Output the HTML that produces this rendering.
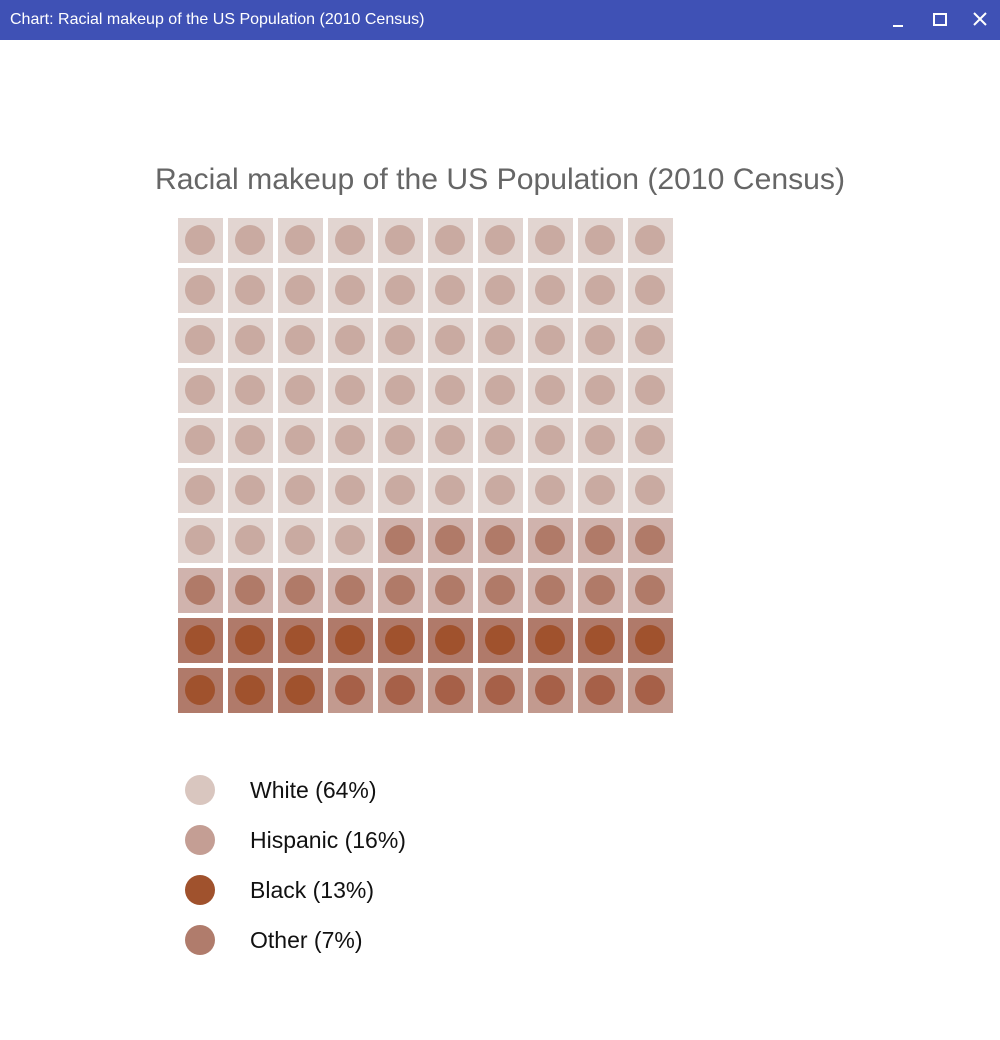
<!DOCTYPE html>
<html><head><meta charset="utf-8"><style>
body{margin:0;width:1000px;height:1040px;background:#fff;font-family:"Liberation Sans",sans-serif;overflow:hidden}
#bar{height:40px;background:#3f51b5;color:#fff;font-size:16px;line-height:40px;padding-left:10px;position:relative}
</style></head><body>
<div id="bar">Chart: Racial makeup of the US Population (2010 Census)
<svg style="position:absolute;right:0;top:0" width="120" height="40">
<line x1="13" y1="26" x2="23" y2="26" stroke="#fff" stroke-width="2"/>
<rect x="54" y="14" width="12" height="11" fill="none" stroke="#fff" stroke-width="2"/>
<path d="M94 13L106 25M106 13L94 25" stroke="#fff" stroke-width="2"/>
</svg></div>
<svg id="c" width="1000" height="1000" style="position:absolute;top:40px;left:0">
<text x="500" y="149" text-anchor="middle" font-size="30" textLength="690" lengthAdjust="spacingAndGlyphs" fill="#666">Racial makeup of the US Population (2010 Census)</text>
</svg>
<script>
const categories=["White","Hispanic","Black","Other"];
const values=[64,16,13,7];
const sq=["#e2d5d1","#d0b3ad","#b07a6a","#c29a8f"];
const ci=["#c9aaa1","#b07a68","#a0522d","#a66048"];
const leg=["#d9c6bf","#c49e94","#a0522d","#b07c6c"];
const ns="http://www.w3.org/2000/svg",svg=document.getElementById('c');
function mk(t,a){const e=document.createElementNS(ns,t);for(const k in a)e.setAttribute(k,a[k]);svg.appendChild(e);return e;}
let idx=0;
values.forEach((v,c)=>{for(let i=0;i<v;i++,idx++){const r=Math.floor(idx/10),col=idx%10;
const x=178+col*50,y=178+r*50;
const s=mk('rect',{x:x,y:y,width:45,height:45,fill:sq[c]});


const d=mk('circle',{cx:x+22,cy:y+22,r:15,fill:ci[c]});

}});
categories.forEach((n,i)=>{const y=750+i*50;
const d=mk('circle',{cx:200,cy:y,r:15,fill:leg[i]});


const t=mk('text',{x:250,y:y+8,'font-size':23,fill:'#111'});t.textContent=n+' ('+values[i]+'%)';

});
</script>
</body></html>
